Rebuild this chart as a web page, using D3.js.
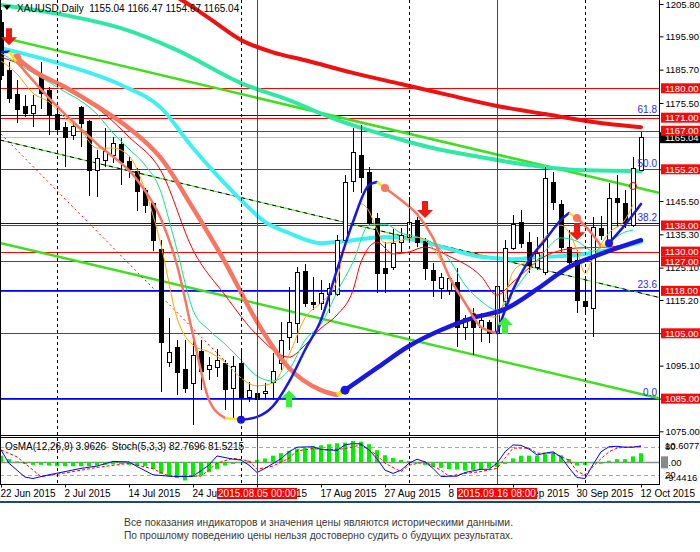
<!DOCTYPE html>
<html>
<head>
<meta charset="utf-8">
<script src="https://cdn.jsdelivr.net/npm/d3@7"></script>
<style>
    body { margin: 0; background: #fff; }
    svg text { font-family: "Liberation Sans", Arial, sans-serif; }
</style>
</head>
<body>
<svg width="700" height="552"></svg>
<script>
// XAUUSD daily candles, 22 Jun 2015 .. 12 Oct 2015 (index 0..80)
const opens  = [1200.3,1185.6,1178.2,1174.6,1172.4,1183.8,1179.5,1172.1,1168.1,1165.7,1174.3,1170.0,1155.0,1158.0,1159.5,1162.9,1157.7,1154.7,1148.9,1144.9,
                1130.8,1096.2,1100.8,1094.0,1089.8,1099.6,1094.0,1094.7,1095.9,1088.2,1095.9,1085.5,1086.7,1086.7,1090.1,1095.9,1103.9,1108.1,1124.1,1114.6,
                1114.3,1117.0,1117.0,1133.5,1151.6,1159.5,1154.4,1140.3,1125.0,1125.3,1132.9,1134.5,1139.7,1133.2,1124.4,1118.9,1118.3,1120.7,1106.9,1111.2,
                1106.9,1108.4,1105.1,1115.0,1131.1,1139.1,1132.9,1125.3,1123.8,1151.3,1144.6,1131.4,1127.4,1114.9,1112.7,1137.2,1132.9,1146.4,1145.0,1138.2,1155.04];
const highs  = [1204.0,1188.0,1182.5,1177.9,1177.9,1188.0,1180.4,1173.3,1169.7,1169.7,1174.6,1170.3,1161.1,1167.8,1165.1,1164.8,1158.9,1155.6,1149.5,1145.2,
                1133.5,1109.7,1102.9,1102.9,1103.2,1102.9,1097.7,1100.2,1096.8,1098.0,1100.5,1090.1,1087.6,1089.8,1099.0,1108.5,1119.2,1125.3,1126.2,1122.2,
                1121.3,1120.4,1135.1,1153.4,1167.8,1168.8,1155.9,1141.8,1133.0,1137.0,1137.2,1146.7,1140.6,1134.2,1126.5,1123.4,1122.8,1125.0,1110.6,1112.7,
                1111.2,1109.1,1120.4,1133.5,1141.2,1142.7,1136.0,1134.5,1155.9,1154.4,1145.8,1136.6,1130.5,1121.3,1140.6,1140.9,1151.0,1153.4,1148.9,1158.9,1166.47];
const lows   = [1182.5,1175.5,1169.4,1171.2,1168.1,1173.6,1165.7,1165.7,1155.9,1164.2,1162.0,1147.0,1146.7,1155.9,1157.1,1150.4,1152.5,1142.4,1141.8,1130.2,
                1087.0,1094.7,1086.1,1086.7,1076.9,1087.6,1090.7,1091.6,1081.5,1079.1,1080.0,1084.0,1084.0,1084.6,1084.6,1093.7,1099.9,1102.0,1113.0,1112.1,
                1112.1,1111.2,1116.4,1132.0,1148.2,1148.0,1138.2,1117.3,1117.3,1124.4,1129.9,1133.5,1131.4,1121.3,1116.1,1115.5,1116.7,1100.8,1103.0,1098.4,
                1102.3,1102.0,1103.9,1112.1,1130.5,1131.1,1123.4,1124.4,1122.8,1142.7,1129.9,1125.0,1111.2,1111.2,1103.9,1133.5,1132.0,1137.5,1137.2,1137.5,1154.67];
const closes = [1184.1,1177.0,1173.6,1172.4,1174.9,1178.5,1171.8,1167.5,1165.1,1168.4,1169.4,1155.0,1158.6,1160.8,1163.2,1157.4,1155.3,1148.5,1144.3,1133.5,
                1102.3,1099.3,1093.1,1088.2,1098.4,1093.4,1095.3,1096.8,1087.9,1095.0,1085.5,1087.6,1084.9,1087.3,1093.4,1102.9,1108.5,1123.8,1114.3,1114.0,
                1117.3,1118.9,1133.5,1151.3,1160.5,1152.8,1138.8,1123.4,1123.4,1132.6,1135.1,1139.1,1132.9,1125.0,1121.3,1122.2,1121.9,1106.9,1109.7,1106.9,
                1109.1,1105.1,1119.5,1131.1,1138.4,1132.6,1125.9,1129.6,1152.5,1145.2,1131.4,1126.8,1115.2,1113.4,1137.5,1135.1,1146.4,1145.2,1138.8,1155.6,1165.04];

const dateTickIdx = [0, 8, 16, 24, 32, 40, 48, 56, 64, 72, 80];
const dateTickLabels = ["22 Jun 2015", "2 Jul 2015", "14 Jul 2015", "24 Jul 2015", "5 Aug 2015", "17 Aug 2015",
                        "27 Aug 2015", "8 Sep 2015", "18 Sep 2015", "30 Sep 2015", "12 Oct 2015"];
const priceTicks = [1205.80, 1195.90, 1185.70, 1175.50, 1165.40, 1155.20, 1145.50, 1135.30, 1125.10, 1115.20, 1105.00, 1095.10, 1085.00, 1075.00];

// horizontal levels and fibo
const redLevels = [1180, 1171, 1167, 1155.2, 1138, 1130, 1127, 1118, 1105, 1085];
const fibLow = 1085, fibHigh = 1224.8;
const fibRatios = [0, 23.6, 38.2, 50.0, 61.8];
const lastPrice = 1165.04;

// period separators and marked bars
const monthSepIdx = [7, 30, 51, 73];
const markIdx = [32, 62];
const markLabels = ["2015.08.05 00:00", "2015.09.16 08:00"];

// trend lines (two anchors each)
const trendIdx = [0, 80];
const trendUpper = [1195.6, 1149.3];
const trendLower = [1132.6, 1086.4];
const trendDashed = [1164.1, 1117.3];
const redDotIdx = [0, 28];
const redDotVal = [1166.0, 1096.5];

// moving averages
const ma200Idx = [18, 23, 26, 30, 34, 38, 44, 50, 56, 62, 68, 74, 80];
const ma200 = [1213.0, 1206.4, 1201.5, 1194.8, 1191.0, 1188.6, 1184.7, 1181.3, 1177.9, 1174.6, 1172.1, 1169.7, 1168.1];
const ma100Idx = [0, 8, 15, 22, 30, 36, 42, 48, 54, 60, 66, 72, 80];
const ma100 = [1205.5, 1202.4, 1198.4, 1191.7, 1181.6, 1176.4, 1170.3, 1165.7, 1161.7, 1158.9, 1156.5, 1155.0, 1154.7];
const ma50Idx = [0, 8, 15, 20, 24, 27, 30, 33, 36, 40, 44, 48, 52, 56, 60, 64, 68, 72, 76, 80];
const ma50 = [1192.3, 1187.1, 1181.0, 1174.0, 1161.7, 1153.4, 1145.8, 1139.1, 1135.7, 1132.6, 1133.5, 1134.5, 1133.5, 1130.8, 1128.4, 1127.7, 1128.4, 1129.0, 1130.5, 1133.0];
const maRedIdx = [0, 4, 8, 12, 16, 20, 24, 28, 32, 36, 38, 40, 42, 44, 45, 47, 49, 51, 53, 56, 60, 62, 64, 68, 72, 76, 80];
const maRed = [1189.6, 1185.6, 1179.8, 1174.0, 1165.1, 1154.7, 1130.5, 1116.7, 1104.5, 1097.7, 1101.4, 1106.6, 1110.6, 1118.2, 1126.8, 1132.9, 1129.3, 1129.9, 1131.4, 1128.6, 1122.5, 1116.7, 1120.7, 1128.6, 1131.1, 1131.4, 1133.9];
const maOrangeIdx = [0, 2, 4, 6, 8, 10, 12, 14, 16, 18, 20, 22, 24, 26, 28, 30, 32, 34, 36, 38, 40, 41, 42, 43, 44, 45, 46, 47, 48,
                     50, 52, 54, 56, 58, 60, 62, 64, 66, 68, 70, 72, 73, 74, 76, 78, 79];
const maOrange = [1188.4, 1184.4, 1178.5, 1175.8, 1170.9, 1166.9, 1161.7, 1161.7, 1159.3, 1148.9, 1132.0, 1109.7, 1101.4, 1099.3, 1096.2, 1091.3, 1088.9, 1089.8, 1098.4, 1109.7,
                  1114.3, 1116.7, 1121.3, 1132.0, 1139.7, 1144.6, 1142.4, 1136.6, 1132.6,
                  1133.5, 1134.4, 1131.1, 1122.8, 1114.3, 1110.3, 1110.0, 1123.8, 1127.7, 1134.4, 1138.1, 1130.5, 1123.4, 1128.0, 1135.7, 1139.7, 1144.3];
const maGreenIdx = [0, 2, 4, 6, 8, 10, 12, 14, 16, 18, 20, 21, 22, 24, 26, 28, 30, 32, 34, 36, 38, 40, 42, 44, 46, 48, 50, 52, 54, 56, 58, 60,
                    62, 64, 66, 68, 70, 72, 74, 76, 78, 79];
const maGreen = [1190.8, 1187.7, 1184.7, 1181.9, 1178.9, 1176.1, 1172.1, 1166.3, 1161.4, 1156.5, 1148.2, 1139.7, 1130.5, 1112.1, 1106.0, 1101.7, 1096.8, 1091.9, 1090.4, 1093.8,
                 1102.9, 1107.8, 1117.6, 1126.8, 1138.1, 1138.4, 1135.7, 1134.5, 1132.6, 1127.7, 1119.8, 1114.9, 1112.1, 1117.6, 1124.1, 1130.2, 1134.2, 1133.2, 1130.2, 1132.9, 1136.0, 1136.6];

// swing lines: legs, blue rising / salmon falling
const swingSlowIdx = [[2, 4, 8, 12, 16, 20, 24, 28, 32, 36, 40, 42], [43, 47, 51, 55, 59, 63, 67, 71, 75, 80]];
const swingSlowVal = [[1189.3, 1185.5, 1180.4, 1174.5, 1167.8, 1158.6, 1143.3, 1126.8, 1108.5, 1094.4, 1087.6, 1086.1],
                      [1087.6, 1094.4, 1101.1, 1106.0, 1109.7, 1112.4, 1118.5, 1125.3, 1129.3, 1133.5]];
const swingSlowUp = [false, true];
const swingSlowDot = [true, true];
const swingFastIdx = [[0, 1], [2, 6, 12, 17, 20, 22, 24, 26, 28], [30, 32, 34, 36, 38, 40, 42, 44, 46, 47], [48, 50, 52, 54, 56, 58, 60, 62],
                      [62, 64, 66, 68, 70, 71], [72, 74, 75], [76, 78, 80]];
const swingFastVal = [[1191.0, 1191.2],
                      [1188.0, 1177.0, 1163.0, 1152.0, 1140.0, 1125.9, 1104.5, 1084.6, 1079.1],
                      [1078.5, 1079.4, 1082.7, 1090.1, 1099.9, 1109.1, 1124.4, 1139.1, 1150.4, 1151.3],
                      [1149.5, 1145.8, 1141.5, 1134.2, 1122.5, 1114.3, 1106.9, 1105.1],
                      [1105.1, 1118.3, 1127.4, 1133.5, 1139.7, 1141.8],
                      [1140.3, 1135.1, 1131.7],
                      [1132.6, 1138.2, 1144.6]];
const swingFastUp = [true, false, true, false, true, false, true];
const swingFastDot = [false, false, true, true, false, true, true];

// signal arrows
const sellIdx = [1, 53, 72];
const sellPrice = [1193.2, 1140.3, 1133.5];
const buyIdx = [36, 63];
const buyPrice = [1087.6, 1110.0];
const ringIdx = [79];
const ringPrice = [1150.1];

// sub window: OsMA(12,26,9) and Stoch(5,3,3)
const osma = [2.9, 1.4, 0.4, -0.7, -1.1, -1.1, -1.4, -1.7, -1.7, -1.7, -1.7, -1.7, -1.4, -1.1, -0.9, -0.7, -1.1, -1.4, -1.7, -2.9,
              -5.0, -6.0, -6.9, -7.9, -6.4, -5.7, -4.3, -2.9, -1.4, -0.7, -0.3, 0.7, 1.1, 1.7, 2.9, 4.0, 5.0, 6.0, 6.4, 7.1,
              7.4, 7.9, 8.3, 8.6, 9.3, 9.0, 7.9, 5.3, 3.1, 1.9, 1.0, 0.6, -0.4, -1.1, -1.9, -2.4, -2.9, -3.1, -3.6, -3.3,
              -2.9, -2.4, -2.1, -0.7, 1.7, 2.9, 2.9, 2.9, 3.6, 4.3, 3.1, 1.4, -1.4, -1.1, -0.4, -0.6, 0.7, 1.4, 1.4, 2.6, 3.9626];
const osmaMax = 10.6077, osmaMin = -9.4416;
const stochMainIdx = [0, 1, 3, 4, 6, 8, 10, 12, 14, 16, 17, 19, 21, 23, 24, 26, 27, 29, 30, 31, 32, 33, 35, 36, 37, 39, 40, 42, 43, 44,
                      45, 46, 47, 48, 49, 50, 51, 52, 53, 54, 55, 56, 57, 58, 60, 61, 62, 63, 64, 65, 66, 67, 68, 69, 70, 71, 72, 73, 74, 75, 76, 77, 78, 79, 80];
const stochMain = [74, 45, 15, 12, 20, 27, 34, 39, 49, 48, 38, 20, 17, 16, 17, 41, 61, 54, 52, 41, 25, 34, 55, 70, 80, 81, 75, 73, 85, 88,
                   87, 74, 55, 30, 23, 30, 45, 54, 48, 34, 16, 17, 17, 25, 32, 32, 45, 70, 85, 84, 76, 63, 67, 70, 59, 35, 14, 12, 42, 70, 81, 82, 80, 80, 82.7696];
const stochSigIdx = [0, 2, 5, 8, 12, 16, 19, 21, 25, 27, 29, 31, 32, 34, 36, 37, 39, 41, 43, 45, 47, 48, 50, 51, 53, 55, 56, 58, 60, 62,
                     63, 64, 66, 67, 69, 71, 72, 73, 74, 75, 76, 77, 78, 80];
const stochSig = [74, 59, 16, 24, 36, 45, 33, 17, 17, 45, 56, 50, 32, 39, 56, 72, 77, 74, 77, 85, 63, 45, 27, 41, 48, 30, 17, 23, 27, 34,
                  56, 78, 78, 67, 67, 52, 27, 20, 38, 55, 70, 78, 80, 81.5215];
const stochLevels = [80, 20];

const disclaimer = ["Все показания индикаторов и значения цены являются историческими данными.",
                    "По прошлому поведению цены нельзя достоверно судить о будущих результатах."];

const svg = d3.select('svg');
const plotRight = 659, mainBottom = 435, oscTop = 438, oscBottom = 484;
const riseColor = "#1818e0", fallColor = "#f87562", turnColor = "#ffe600";
const labelSize = "9.5px";

const x = d3.scaleLinear().domain([0, 80]).range([1, 641]);
const y = d3.scaleLinear().domain([1075.0, 1205.8]).range([431.3, 4]);
const yOsma = d3.scaleLinear().domain([osmaMin, osmaMax]).range([oscBottom, oscTop]);
const yStoch = d3.scaleLinear().domain([0, 100]).range([oscBottom, oscTop]);
const crisp = v => Math.round(v) + 0.5;
const fibPrice = r => fibLow + (fibHigh - fibLow) * r / 100;

svg.append("rect").attr("width", 700).attr("height", 552).attr("fill", "#fff");

const defs = svg.append("defs");
defs.append("clipPath").attr("id", "clip-main")
    .append("rect").attr("x", 0).attr("y", 0).attr("width", plotRight).attr("height", mainBottom);
defs.append("clipPath").attr("id", "clip-osc")
    .append("rect").attr("x", 0).attr("y", oscTop).attr("width", plotRight).attr("height", oscBottom - oscTop);

const main = svg.append("g").attr("clip-path", "url(#clip-main)");
const osc = svg.append("g").attr("clip-path", "url(#clip-osc)");

const curveLine = d3.line().x(d => x(d[0])).y(d => y(d[1])).curve(d3.curveMonotoneX);
const straightLine = d3.line().x(d => x(d[0])).y(d => y(d[1]));

function drawSeries(g, idx, vals, color, width) {
    return g.append("path")
        .datum(d3.zip(idx, vals))
        .attr("d", curveLine)
        .attr("fill", "none")
        .attr("stroke", color)
        .attr("stroke-width", width)
        .attr("stroke-linejoin", "round")
        .attr("stroke-linecap", "round");
}

// ray through two anchors, extended over the whole plot width
function rayPoints(vals) {
    const s = d3.scaleLinear().domain(trendIdx).range(vals);
    const i0 = x.invert(0), i1 = x.invert(plotRight);
    return [[i0, s(i0)], [i1, s(i1)]];
}

// horizontal levels
main.selectAll(".bid").data([lastPrice]).enter().append("line")
    .attr("x1", 0).attr("x2", plotRight)
    .attr("y1", d => crisp(y(d))).attr("y2", d => crisp(y(d)))
    .attr("stroke", "#c0c0c0");
main.selectAll(".fib").data(fibRatios).enter().append("line")
    .attr("x1", 0).attr("x2", plotRight)
    .attr("y1", d => crisp(y(fibPrice(d))) - 1)
    .attr("y2", d => crisp(y(fibPrice(d))) - 1)
    .attr("stroke", "#0000ff");
main.selectAll(".level").data(redLevels).enter().append("line")
    .attr("x1", 0).attr("x2", plotRight)
    .attr("y1", d => crisp(y(d))).attr("y2", d => crisp(y(d)))
    .attr("stroke", "#ff0000");

// vertical separators across both windows
svg.selectAll(".sep").data(monthSepIdx).enter().append("line")
    .attr("x1", d => crisp(x(d))).attr("x2", d => crisp(x(d)))
    .attr("y1", 0).attr("y2", oscBottom)
    .attr("stroke", "#000").attr("stroke-dasharray", "3,3");
svg.selectAll(".mark").data(markIdx).enter().append("line")
    .attr("x1", d => crisp(x(d))).attr("x2", d => crisp(x(d)))
    .attr("y1", 0).attr("y2", oscBottom)
    .attr("stroke", "#ff0000");

// trend lines
main.append("path").datum(rayPoints(trendUpper)).attr("d", straightLine)
    .attr("stroke", "#3fdf1f").attr("stroke-width", 2.5).attr("fill", "none");
main.append("path").datum(rayPoints(trendLower)).attr("d", straightLine)
    .attr("stroke", "#3fdf1f").attr("stroke-width", 2.5).attr("fill", "none");
main.append("path").datum(rayPoints(trendDashed)).attr("d", straightLine)
    .attr("stroke", "#3fdf1f").attr("stroke-width", 1).attr("fill", "none");
main.append("path").datum(rayPoints(trendDashed)).attr("d", straightLine)
    .attr("stroke", "#000").attr("stroke-width", 1).attr("stroke-dasharray", "4,4").attr("fill", "none");
main.append("path").datum(d3.zip(redDotIdx, redDotVal)).attr("d", straightLine)
    .attr("stroke", "#ff0000").attr("stroke-width", 1).attr("stroke-dasharray", "2,3").attr("fill", "none");

// slow moving averages
drawSeries(main, ma200Idx, ma200, "#ee1111", 4);
drawSeries(main, ma100Idx, ma100, "#2fe8a4", 4);
drawSeries(main, ma50Idx, ma50, "#3ff0f2", 4);

// candles
const bars = d3.range(opens.length);
main.selectAll(".wick").data(bars).enter().append("line")
    .attr("x1", i => crisp(x(i))).attr("x2", i => crisp(x(i)))
    .attr("y1", i => Math.round(y(highs[i]))).attr("y2", i => Math.round(y(lows[i])))
    .attr("stroke", "#000");
main.selectAll(".body").data(bars).enter().append("rect")
    .attr("x", i => Math.round(x(i)) - 1.5)
    .attr("width", 4)
    .attr("y", i => Math.round(y(Math.max(opens[i], closes[i]))) + 0.5)
    .attr("height", i => Math.max(1, Math.round(y(Math.min(opens[i], closes[i]))) - Math.round(y(Math.max(opens[i], closes[i])))))
    .attr("fill", i => closes[i] >= opens[i] ? "#fff" : "#000")
    .attr("stroke", "#000");

// fast moving averages
drawSeries(main, maRedIdx, maRed, "#ff0000", 1);
drawSeries(main, maGreenIdx, maGreen, "#12e38e", 1);
drawSeries(main, maOrangeIdx, maOrange, "#ffa500", 1);

// swing lines
function drawSwing(legIdx, legVal, legUp, legDot, width, r) {
    legIdx.forEach(function(idx, k) {
        if (k > 0) {
            const pIdx = legIdx[k - 1], pVal = legVal[k - 1];
            main.append("path")
                .datum([[pIdx[pIdx.length - 1], pVal[pVal.length - 1]], [idx[0], legVal[k][0]]])
                .attr("d", straightLine)
                .attr("stroke", turnColor).attr("stroke-width", width).attr("fill", "none");
        }
        drawSeries(main, idx, legVal[k], legUp[k] ? riseColor : fallColor, width);
    });
    legIdx.forEach(function(idx, k) {
        if (!legDot[k]) return;
        main.append("circle")
            .attr("cx", x(idx[0])).attr("cy", y(legVal[k][0]))
            .attr("r", r)
            .attr("fill", legUp[k] ? riseColor : fallColor);
    });
}
drawSwing(swingSlowIdx, swingSlowVal, swingSlowUp, swingSlowDot, 4.5, 4.5);
drawSwing(swingFastIdx, swingFastVal, swingFastUp, swingFastDot, 2.5, 4);

// arrows
function arrowPath(cx, tip, dir) {
    const pts = [[0, 0], [8, -8], [3, -8], [3, -17], [-3, -17], [-3, -8], [-8, -8]];
    return "M" + pts.map(p => (cx + p[0]) + "," + (tip + p[1] * dir)).join("L") + "Z";
}
main.selectAll(".sell").data(sellIdx).enter().append("path")
    .attr("d", (d, i) => arrowPath(x(d), y(sellPrice[i]), 1))
    .attr("fill", "#f01a14");
main.selectAll(".buy").data(buyIdx).enter().append("path")
    .attr("d", (d, i) => arrowPath(x(d), y(buyPrice[i]), -1))
    .attr("fill", "#3af03a");
main.selectAll(".ring").data(ringIdx).enter().append("circle")
    .attr("cx", d => x(d)).attr("cy", (d, i) => y(ringPrice[i]))
    .attr("r", 3.5).attr("fill", "none").attr("stroke", "#ff0000");

// fibo level captions on top
main.selectAll(".fibtxt").data(fibRatios).enter().append("text")
    .attr("x", plotRight - 2)
    .attr("y", d => y(fibPrice(d)) - 3)
    .attr("text-anchor", "end")
    .attr("font-size", "10px")
    .attr("fill", "#2a2aff")
    .text(d => d.toFixed(1));

// sub window
osc.append("line")
    .attr("x1", 0).attr("x2", plotRight)
    .attr("y1", crisp(yOsma(0))).attr("y2", crisp(yOsma(0)))
    .attr("stroke", "#8c8c8c").attr("stroke-width", 1.5);
osc.selectAll(".lvl").data(stochLevels).enter().append("line")
    .attr("x1", 0).attr("x2", plotRight)
    .attr("y1", d => crisp(yStoch(d))).attr("y2", d => crisp(yStoch(d)))
    .attr("stroke", "#a8a8a8").attr("stroke-dasharray", "4,3");
osc.selectAll(".hist").data(osma).enter().append("rect")
    .attr("x", (d, i) => Math.round(x(i)) - 2)
    .attr("width", 4)
    .attr("y", d => Math.min(yOsma(d), yOsma(0)))
    .attr("height", d => Math.abs(yOsma(d) - yOsma(0)))
    .attr("fill", "#00f000");
osc.append("path")
    .datum(d3.zip(stochSigIdx, stochSig))
    .attr("d", d3.line().x(d => x(d[0])).y(d => yStoch(d[1])))
    .attr("fill", "none").attr("stroke", "#ff0000").attr("stroke-dasharray", "3,2");
osc.append("path")
    .datum(d3.zip(stochMainIdx, stochMain))
    .attr("d", d3.line().x(d => x(d[0])).y(d => yStoch(d[1])))
    .attr("fill", "none").attr("stroke", "#0000ff");

// frames
const frame = svg.append("g").attr("stroke", "#000").attr("fill", "none");
frame.append("line").attr("x1", 0.5).attr("x2", 0.5).attr("y1", 0).attr("y2", oscBottom + 0.5);
frame.append("line").attr("x1", 0).attr("x2", plotRight).attr("y1", mainBottom + 0.5).attr("y2", mainBottom + 0.5);
frame.append("line").attr("x1", 0).attr("x2", plotRight).attr("y1", oscTop - 0.5).attr("y2", oscTop - 0.5);
frame.append("line").attr("x1", 0).attr("x2", plotRight + 1).attr("y1", oscBottom + 0.5).attr("y2", oscBottom + 0.5);
frame.append("line").attr("x1", plotRight + 0.5).attr("x2", plotRight + 0.5).attr("y1", 0).attr("y2", oscBottom + 0.5);

// price axis
const yAxis = d3.axisRight(y).tickValues(priceTicks).tickFormat(d3.format(".2f")).tickSize(4).tickPadding(2);
const ya = svg.append("g").attr("transform", "translate(" + (plotRight + 0.5) + ",0)").call(yAxis);
ya.select(".domain").remove();
ya.selectAll("text").attr("font-size", labelSize).attr("font-family", "Liberation Sans, Arial, sans-serif").attr("fill", "#000");

// last price and level tags
svg.append("rect").attr("x", plotRight + 1).attr("y", y(lastPrice) - 5).attr("width", 41).attr("height", 11).attr("fill", "#000");
svg.append("text").attr("x", plotRight + 6).attr("y", y(lastPrice) + 4).attr("font-size", labelSize).attr("fill", "#fff")
    .text(lastPrice.toFixed(2));
const tags = svg.selectAll(".tag").data(redLevels).enter().append("g");
tags.append("rect")
    .attr("x", plotRight + 2).attr("y", d => y(d) - 5).attr("width", 39).attr("height", 10)
    .attr("fill", "#f20d0d");
tags.append("text")
    .attr("x", plotRight + 6).attr("y", d => y(d) + 3.5)
    .attr("font-size", labelSize).attr("fill", "#fff")
    .text(d => d.toFixed(2));

// sub window scale
const oscLabels = svg.append("g").attr("font-size", labelSize).attr("fill", "#000");
oscLabels.append("text").attr("x", plotRight + 6).attr("y", yStoch(stochLevels[0]) + 3).text(stochLevels[0]);
oscLabels.append("text").attr("x", plotRight + 6).attr("y", yStoch(stochLevels[1]) + 3).text(stochLevels[1]);
oscLabels.append("text").attr("x", plotRight + 6).attr("y", oscTop + 11).text(osmaMax.toFixed(4));
oscLabels.append("text").attr("x", plotRight + 6).attr("y", oscBottom - 3).text(osmaMin.toFixed(4));
svg.append("rect").attr("x", plotRight + 2).attr("y", yOsma(0) - 6).attr("width", 7).attr("height", 12).attr("fill", "#8a8a8a");
oscLabels.append("text").attr("x", plotRight + 4).attr("y", yOsma(0) + 4).text("0.00");

// time axis
const xAxis = d3.axisBottom(x).tickValues(dateTickIdx).tickFormat((d, i) => dateTickLabels[i]).tickSize(3).tickPadding(2);
const xa = svg.append("g").attr("transform", "translate(0," + (oscBottom + 0.5) + ")").call(xAxis);
xa.select(".domain").remove();
xa.selectAll("text").attr("text-anchor", "start").attr("x", -1)
    .attr("font-size", "10px").attr("font-family", "Liberation Sans, Arial, sans-serif").attr("fill", "#000");

const marks = svg.selectAll(".marklbl").data(markIdx).enter().append("g");
marks.append("rect")
    .attr("x", d => x(d) - 40).attr("y", oscBottom + 4).attr("width", 80).attr("height", 11)
    .attr("fill", "#ff0000");
marks.append("text")
    .attr("x", d => x(d)).attr("y", oscBottom + 13)
    .attr("text-anchor", "middle").attr("font-size", "10px").attr("fill", "#fff")
    .text((d, i) => markLabels[i]);

// titles
svg.append("path").attr("d", "M3,5L11,5L7,10Z").attr("fill", "#000");
svg.append("text").attr("x", 17).attr("y", 12).attr("font-size", "10px").attr("fill", "#000")
    .attr("xml:space", "preserve")
    .text("XAUUSD,Daily  " + [opens[80], highs[80], lows[80], closes[80]].map(v => v.toFixed(2)).join(" "));
svg.append("text").attr("x", 5).attr("y", oscTop + 12).attr("font-size", "10px").attr("fill", "#000")
    .attr("xml:space", "preserve")
    .text("OsMA(12,26,9) " + osma[80].toFixed(4) + "  Stoch(5,3,3) " + stochMain[stochMain.length - 1].toFixed(4) + " " + stochSig[stochSig.length - 1].toFixed(4));

// footer
svg.append("rect").attr("x", 0).attr("y", 501).attr("width", 700).attr("height", 2).attr("fill", "#1f4a6c");
svg.selectAll(".note").data(disclaimer).enter().append("text")
    .attr("x", 124).attr("y", (d, i) => 526 + i * 13)
    .attr("font-size", "11.5px").attr("fill", "#3a3a3a")
    .attr("textLength", 389).attr("lengthAdjust", "spacingAndGlyphs")
    .text(d => d);
</script>
</body>
</html>
